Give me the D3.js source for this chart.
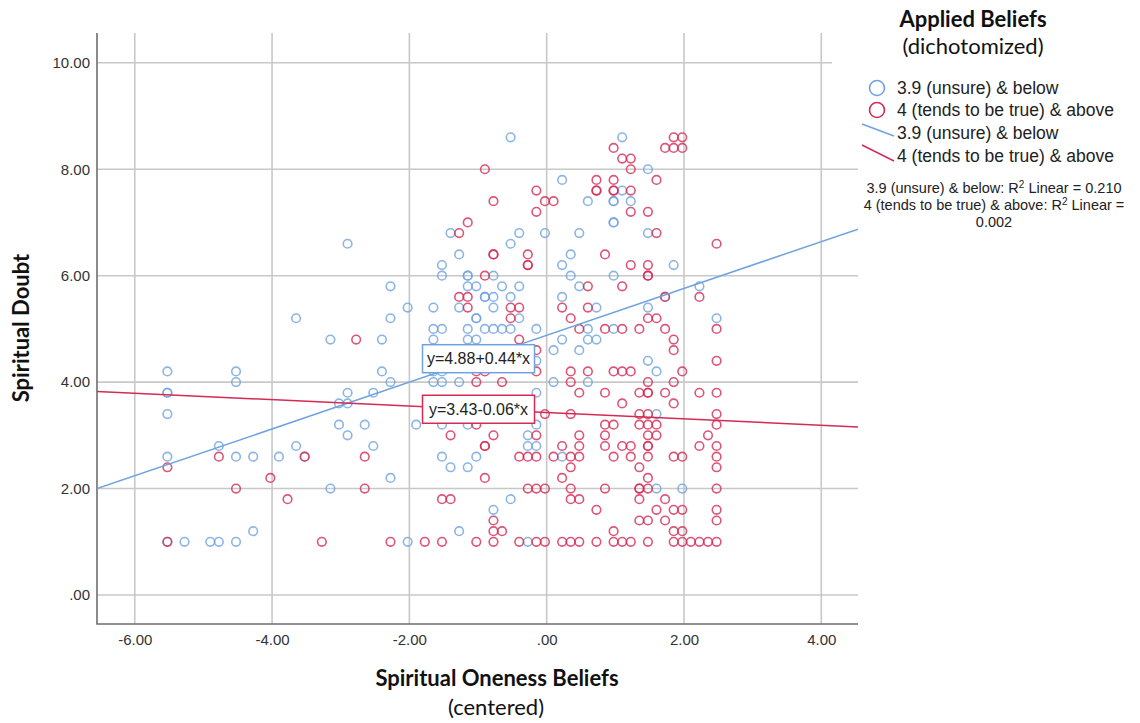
<!DOCTYPE html>
<html>
<head>
<meta charset="utf-8">
<script src="https://cdn.jsdelivr.net/npm/d3@7"></script>
<style>
  html, body { margin: 0; padding: 0; background: #fff; }
  svg { display: block; }
</style>
</head>
<body>
<svg id="chart" width="1140" height="723"></svg>
<script>
// Spiritual oneness beliefs (centered) vs. spiritual doubt, split by applied beliefs
const groupNames = ["3.9 (unsure) & below", "4 (tends to be true) & above"];
const groupColors = ["#6fa3e0", "#d42a54"];

const xTicks = [-6, -4, -2, 0, 2, 4];
const xTickLabels = ["-6.00", "-4.00", "-2.00", ".00", "2.00", "4.00"];
const yTicks = [0, 2, 4, 6, 8, 10];
const yTickLabels = [".00", "2.00", "4.00", "6.00", "8.00", "10.00"];

// Linear fits per group
const fitIntercepts = [4.88, 3.43];
const fitSlopes = [0.44, -0.06];
const rSquared = [0.210, 0.002];

// Respondents with applied beliefs of 3.9 and below: [oneness, doubt]
const belowPoints = [
  [-5.525,4.2],[-5.525,3.8],[-5.525,3.8],[-5.525,3.4],[-5.525,2.6],[-5.525,1.0],[-5.275,1.0],
  [-4.9,1.0],[-4.775,1.0],[-4.775,2.8],[-4.525,4.2],[-4.525,4.0],[-4.525,2.6],[-4.525,1.0],
  [-4.275,2.6],[-4.275,1.2],[-3.9,2.6],[-3.65,5.2],[-3.65,2.8],[-3.525,2.6],[-3.15,4.8],[-3.15,2.0],
  [-3.025,3.6],[-3.025,3.2],[-2.9,6.6],[-2.9,3.8],[-2.9,3.6],[-2.9,3.0],[-2.65,3.2],[-2.525,3.8],[-2.525,2.8],
  [-2.4,4.8],[-2.4,4.2],[-2.275,5.8],[-2.275,5.2],[-2.275,4.0],[-2.275,2.2],[-2.025,5.4],[-2.025,1.0],
  [-1.9,3.2],[-1.65,5.4],[-1.65,5.0],[-1.65,4.8],[-1.65,4.2],[-1.65,4.0],
  [-1.525,6.2],[-1.525,6.0],[-1.525,5.0],[-1.525,4.2],[-1.525,4.0],[-1.525,3.2],[-1.525,2.6],
  [-1.4,6.8],[-1.4,2.4],[-1.275,6.4],[-1.275,5.4],[-1.275,4.0],[-1.275,1.2],
  [-1.15,6.0],[-1.15,6.0],[-1.15,5.8],[-1.15,5.0],[-1.15,4.8],[-1.15,3.2],[-1.15,2.4],
  [-1.025,5.8],[-1.025,5.2],[-1.025,5.2],[-1.025,4.8],[-1.025,2.6],
  [-0.9,5.6],[-0.9,5.6],[-0.9,5.0],[-0.775,6.0],[-0.775,5.6],[-0.775,5.4],[-0.775,5.0],[-0.775,1.6],
  [-0.65,5.8],[-0.65,5.0],[-0.525,8.6],[-0.525,6.6],[-0.525,5.6],[-0.525,5.0],[-0.525,1.8],
  [-0.4,6.8],[-0.4,5.8],[-0.4,5.2],[-0.275,3.0],[-0.275,2.8],[-0.275,1.0],
  [-0.15,5.0],[-0.15,4.4],[-0.15,3.8],[-0.15,3.2],[-0.15,2.8],[-0.025,6.8],
  [0.1,4.6],[0.1,4.0],[0.225,7.8],[0.225,6.2],[0.225,5.6],[0.225,4.8],[0.225,2.6],
  [0.35,6.4],[0.35,6.0],[0.475,6.8],[0.475,5.8],[0.475,4.6],[0.6,7.4],[0.6,5.0],[0.6,4.8],[0.6,4.0],
  [0.725,5.4],[0.725,4.8],[0.975,7.4],[0.975,7.4],[0.975,7.0],[0.975,7.0],[0.975,6.0],[0.975,5.0],
  [1.1,8.6],[1.1,7.6],[1.225,7.4],[1.475,8.0],[1.475,6.8],[1.475,5.4],[1.475,4.4],
  [1.6,4.2],[1.6,3.4],[1.6,2.0],[1.725,5.6],[1.85,6.2],[1.975,2.0],[2.225,5.8],[2.475,5.2]
];

// Respondents with applied beliefs of 4 and above: [oneness, doubt]
const abovePoints = [
  [-5.525,2.4],[-5.525,1.0],[-4.775,2.6],[-4.525,2.0],[-4.025,2.2],[-3.775,1.8],[-3.525,2.6],[-3.275,1.0],
  [-2.775,4.8],[-2.65,2.6],[-2.65,2.0],[-2.275,1.0],[-1.775,1.0],
  [-1.525,1.8],[-1.525,1.0],[-1.4,3.0],[-1.4,1.8],[-1.275,6.8],[-1.275,5.6],
  [-1.15,7.0],[-1.15,5.6],[-1.15,5.4],[-1.025,4.2],[-1.025,4.0],[-1.025,3.2],[-1.025,1.0],
  [-0.9,8.0],[-0.9,6.0],[-0.9,4.2],[-0.9,2.8],[-0.9,2.8],[-0.9,2.2],
  [-0.775,7.4],[-0.775,6.4],[-0.775,6.4],[-0.775,3.0],[-0.775,1.4],[-0.775,1.2],[-0.775,1.0],
  [-0.65,4.0],[-0.65,1.2],[-0.525,5.4],[-0.525,5.2],
  [-0.4,5.4],[-0.4,4.8],[-0.4,2.6],[-0.4,1.0],
  [-0.275,6.4],[-0.275,6.2],[-0.275,6.2],[-0.275,2.6],[-0.275,2.0],
  [-0.15,7.6],[-0.15,7.2],[-0.15,4.6],[-0.15,4.2],[-0.15,3.0],[-0.15,2.6],[-0.15,2.0],[-0.15,1.0],
  [-0.025,7.4],[-0.025,3.4],[-0.025,2.0],[-0.025,1.0],
  [0.1,7.4],[0.1,2.6],[0.225,5.4],[0.225,2.8],[0.225,2.2],[0.225,1.0],
  [0.35,5.2],[0.35,4.2],[0.35,4.0],[0.35,3.4],[0.35,2.6],[0.35,2.4],[0.35,2.0],[0.35,1.8],[0.35,1.0],
  [0.475,5.0],[0.475,3.8],[0.475,3.0],[0.475,2.8],[0.475,2.6],[0.475,1.8],[0.475,1.0],
  [0.6,5.8],[0.6,5.4],[0.6,4.2],
  [0.725,7.8],[0.725,7.6],[0.725,7.6],[0.725,1.6],[0.725,1.0],
  [0.85,6.4],[0.85,5.0],[0.85,3.8],[0.85,3.2],[0.85,3.0],[0.85,2.8],[0.85,2.0],
  [0.975,8.4],[0.975,7.8],[0.975,7.6],[0.975,7.6],[0.975,4.2],[0.975,3.2],[0.975,2.6],[0.975,1.2],[0.975,1.0],
  [1.1,8.2],[1.1,5.8],[1.1,5.0],[1.1,4.2],[1.1,3.6],[1.1,2.8],[1.1,1.0],
  [1.225,8.2],[1.225,8.0],[1.225,7.6],[1.225,7.2],[1.225,6.2],[1.225,4.2],[1.225,2.8],[1.225,2.6],[1.225,1.0],
  [1.35,5.0],[1.35,3.8],[1.35,3.4],[1.35,3.2],[1.35,2.4],[1.35,2.0],[1.35,2.0],[1.35,1.8],[1.35,1.4],
  [1.475,7.2],[1.475,6.2],[1.475,6.0],[1.475,6.0],[1.475,5.2],[1.475,4.0],[1.475,3.8],[1.475,3.8],[1.475,3.4],
  [1.475,3.2],[1.475,3.0],[1.475,2.8],[1.475,2.8],[1.475,2.6],[1.475,2.2],[1.475,2.0],[1.475,1.4],[1.475,1.0],
  [1.6,7.8],[1.6,6.8],[1.6,5.2],[1.6,3.2],[1.6,3.0],[1.6,1.6],
  [1.725,8.4],[1.725,5.6],[1.725,5.0],[1.725,3.8],[1.725,1.8],[1.725,1.4],
  [1.85,8.6],[1.85,8.4],[1.85,4.8],[1.85,4.6],[1.85,4.0],[1.85,3.6],[1.85,2.6],[1.85,1.6],[1.85,1.2],[1.85,1.0],
  [1.975,8.6],[1.975,8.4],[1.975,4.2],[1.975,2.6],[1.975,1.6],[1.975,1.2],[1.975,1.0],
  [2.1,1.0],[2.225,5.6],[2.225,3.8],[2.225,2.8],[2.225,1.0],[2.35,3.0],[2.35,1.0],
  [2.475,6.6],[2.475,5.0],[2.475,4.4],[2.475,3.8],[2.475,3.4],[2.475,3.2],[2.475,2.8],[2.475,2.6],
  [2.475,2.4],[2.475,2.0],[2.475,1.6],[2.475,1.4],[2.475,1.0]
];

const groupPoints = [belowPoints, abovePoints];

// ---- layout ----
const svg = d3.select("#chart");
const plot = { left: 97, right: 858, top: 33, bottom: 624 };

const x = d3.scaleLinear().domain([-6.55, 4.535]).range([plot.left, plot.right]);
const y = d3.scaleLinear().domain([-0.545, 10.56]).range([plot.bottom, plot.top]);

const tickFont = "'Liberation Sans', Arial, sans-serif";
const titleFont = "Lato, 'Open Sans', sans-serif";

// grid
const grid = svg.append("g").attr("stroke", "#c8c8c8").attr("stroke-width", 1.6);
grid.selectAll("line.vx").data(xTicks).join("line")
  .attr("x1", d => x(d)).attr("x2", d => x(d))
  .attr("y1", plot.top).attr("y2", plot.bottom);
grid.selectAll("line.hy").data(yTicks).join("line")
  .attr("x1", plot.left).attr("x2", plot.right)
  .attr("y1", d => y(d)).attr("y2", d => y(d));

// axes: labels from d3 axes, frame drawn on left and bottom
const xAxis = d3.axisBottom(x).tickValues(xTicks)
  .tickFormat((d, i) => xTickLabels[i]).tickSize(0).tickPadding(10);
const yAxis = d3.axisLeft(y).tickValues(yTicks)
  .tickFormat((d, i) => yTickLabels[i]).tickSize(0).tickPadding(7);

const gx = svg.append("g").attr("transform", `translate(0,${plot.bottom})`).call(xAxis);
const gy = svg.append("g").attr("transform", `translate(${plot.left},0)`).call(yAxis);
gx.select(".domain").remove();
gy.select(".domain").remove();
[gx, gy].forEach(g => g.selectAll("text")
  .attr("font-family", tickFont).attr("font-size", 15).attr("fill", "#333"));

svg.append("path")
  .attr("d", `M${plot.left},${plot.top}V${plot.bottom}H${plot.right}`)
  .attr("fill", "none").attr("stroke", "#6e6e6e").attr("stroke-width", 1.6);

// points
groupPoints.forEach((pts, gi) => {
  svg.append("g").selectAll("circle").data(pts).join("circle")
    .attr("cx", d => x(d[0])).attr("cy", d => y(d[1])).attr("r", 4.3)
    .attr("fill", "none").attr("stroke", groupColors[gi])
    .attr("stroke-width", 1.6).attr("stroke-opacity", 0.8);
});

// fit lines across the full x range
const xDom = x.domain();
svg.append("clipPath").attr("id", "plotclip")
  .append("rect").attr("x", plot.left).attr("y", plot.top)
  .attr("width", plot.right - plot.left).attr("height", plot.bottom - plot.top);
groupNames.forEach((g, gi) => {
  const f = v => fitIntercepts[gi] + fitSlopes[gi] * v;
  svg.append("line").attr("clip-path", "url(#plotclip)")
    .attr("x1", x(xDom[0])).attr("y1", y(f(xDom[0])))
    .attr("x2", x(xDom[1])).attr("y2", y(f(xDom[1])))
    .attr("stroke", groupColors[gi]).attr("stroke-width", 1.5);
});

// equation labels sitting on each fit line
const labelAt = -1.0;
groupNames.forEach((g, gi) => {
  const a = fitIntercepts[gi], b = fitSlopes[gi];
  const txt = `y=${a.toFixed(2)}${b >= 0 ? "+" : "-"}${Math.abs(b).toFixed(2)}*x`;
  const cx = x(labelAt) + 0.5, cy = y(a + b * labelAt);
  const w = 112, h = 28;
  const lg = svg.append("g");
  lg.append("rect").attr("x", cx - w / 2).attr("y", cy - h / 2)
    .attr("width", w).attr("height", h)
    .attr("fill", "#fff").attr("stroke", groupColors[gi]).attr("stroke-width", 1.5);
  lg.append("text").attr("x", cx).attr("y", cy + 5.5)
    .attr("text-anchor", "middle").attr("font-family", tickFont)
    .attr("font-size", 16).attr("fill", "#222").text(txt);
});

// legend background
svg.append("rect").attr("x", 832).attr("y", 0).attr("width", 308).attr("height", 78).attr("fill", "#fff");

// axis titles
svg.append("text").attr("x", 497).attr("y", 686).attr("text-anchor", "middle")
  .attr("font-family", titleFont).attr("font-weight", 700).attr("font-size", 22)
  .attr("fill", "#111").text("Spiritual Oneness Beliefs");
svg.append("text").attr("x", 496).attr("y", 715).attr("text-anchor", "middle")
  .attr("font-family", titleFont).attr("font-size", 22)
  .attr("fill", "#111").text("(centered)");
svg.append("text").attr("transform", "translate(29,328) rotate(-90)").attr("text-anchor", "middle")
  .attr("font-family", titleFont).attr("font-weight", 700).attr("font-size", 22)
  .attr("fill", "#111").text("Spiritual Doubt");

// legend
const lgX = 973;
svg.append("text").attr("x", lgX).attr("y", 27).attr("text-anchor", "middle")
  .attr("font-family", titleFont).attr("font-weight", 700).attr("font-size", 22)
  .attr("fill", "#111").text("Applied Beliefs");
svg.append("text").attr("x", lgX).attr("y", 54).attr("text-anchor", "middle")
  .attr("font-family", titleFont).attr("font-size", 22)
  .attr("fill", "#111").text("(dichotomized)");

const legendFont = 17.5;
const legendRows = [88, 110];
groupNames.forEach((g, gi) => {
  svg.append("circle").attr("cx", 877).attr("cy", legendRows[gi]).attr("r", 7.5)
    .attr("fill", "none").attr("stroke", groupColors[gi]).attr("stroke-width", 1.6);
  svg.append("text").attr("x", 897).attr("y", legendRows[gi] + 6)
    .attr("font-family", tickFont).attr("font-size", legendFont).attr("fill", "#222").text(g);
});
const lineRows = [133, 156];
groupNames.forEach((g, gi) => {
  const cy = lineRows[gi];
  svg.append("line").attr("x1", 862).attr("y1", cy - 9 - gi * 2).attr("x2", 894).attr("y2", cy + 3 + gi * 2)
    .attr("stroke", groupColors[gi]).attr("stroke-width", 1.5);
  svg.append("text").attr("x", 897).attr("y", cy + 6)
    .attr("font-family", tickFont).attr("font-size", legendFont).attr("fill", "#222").text(g);
});

// R squared notes
const r2Lines = [
  [`${groupNames[0]}: R`, "2", ` Linear = ${rSquared[0].toFixed(3)}`],
  [`${groupNames[1]}: R`, "2", " Linear ="],
  [rSquared[1].toFixed(3)]
];
r2Lines.forEach((parts, li) => {
  const t = svg.append("text").attr("x", 994).attr("y", 193 + li * 17).attr("text-anchor", "middle")
    .attr("font-family", tickFont).attr("font-size", 14.5).attr("fill", "#222");
  parts.forEach((p, pi) => {
    const ts = t.append("tspan").text(p);
    if (pi === 1) ts.attr("font-size", 10).attr("dy", -5);
    if (pi === 2) ts.attr("dy", 5);
  });
});
</script>
</body>
</html>
